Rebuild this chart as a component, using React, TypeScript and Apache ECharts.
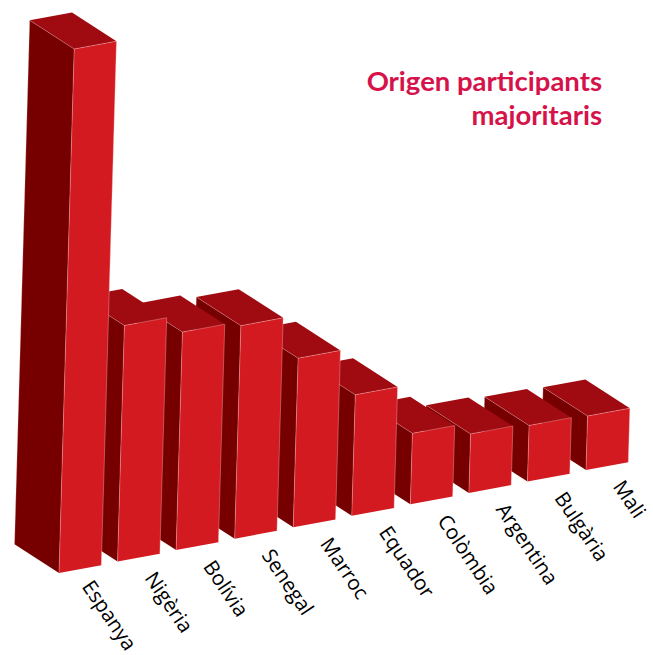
import React, { useEffect, useRef } from "react";
import * as echarts from "echarts";

const categories = ["Espanya", "Nigèria", "Bolívia", "Senegal", "Marroc", "Equador", "Colòmbia", "Argentina", "Bulgària", "Mali"];
const values = [524, 236, 218, 213, 169, 121, 71, 59, 56, 54];

const FRONT = "#D21A20";
const SIDE = "#760000";
const TOP = "#A00B11";
const EDGE = "rgba(255,205,205,0.5)";
const TITLE = "#D5124A";

const WIDTH: [number, number] = [42.3, -7.8];
const DEPTH: [number, number] = [-44.5, -28.7];
const LEAN = 0.029;
const BASE_SLOPE = -0.1954;

function renderBar(params: any, api: any) {
  const i = api.value(0);
  const v = api.value(1);
  const x0 = api.coord([0, 0])[0];
  const p0 = api.coord([i, 0]);
  const p1 = api.coord([i, v]);
  const shift = (p0[0] - x0) * BASE_SLOPE;
  const h = p0[1] - p1[1];
  const fbl = [p0[0], p0[1] + shift];
  const ftl = [p0[0] + h * LEAN, p1[1] + shift];
  const add = (p: number[], d: number[]) => [p[0] + d[0], p[1] + d[1]];
  const fbr = add(fbl, WIDTH);
  const ftr = add(ftl, WIDTH);
  const sbl = add(fbl, DEPTH);
  const stl = add(ftl, DEPTH);
  const back = add(ftr, DEPTH);
  const name = categories[i];
  const first = i === 0;
  return {
    type: "group",
    children: [
      { type: "polygon", shape: { points: [sbl, fbl, ftl, stl] }, style: { fill: SIDE } },
      { type: "polygon", shape: { points: [stl, ftl, ftr, back] }, style: { fill: TOP } },
      { type: "polygon", shape: { points: [fbl, fbr, ftr, ftl] }, style: { fill: FRONT } },
      { type: "polyline", shape: { points: [fbl, ftl, ftr, fbr] }, style: { fill: "none", stroke: EDGE, lineWidth: 0.7 } },
      { type: "polyline", shape: { points: [ftl, stl, sbl] }, style: { fill: "none", stroke: EDGE, lineWidth: 0.5 } },
      {
        type: "text",
        x: fbl[0] + (first ? 29 : 33),
        y: fbl[1] + (first ? 9 : 12),
        rotation: (-56 * Math.PI) / 180,
        style: {
          text: name,
          fill: "#000000",
          font: '20.5px "Open Sans"',
          textAlign: "left",
          textVerticalAlign: "middle",
        },
      },
    ],
  };
}

export default function App() {
  const ref = useRef<HTMLDivElement>(null);
  useEffect(() => {
    const chart = echarts.init(ref.current!, undefined, { renderer: "svg" });
    chart.setOption({
      animation: false,
      backgroundColor: "#ffffff",
      title: {
        text: "Origen participants\nmajoritaris",
        left: 597,
        top: 58,
        textAlign: "right",
        textStyle: {
          color: TITLE,
          fontFamily: "Lato",
          fontWeight: "bold",
          fontSize: 27.5,
          lineHeight: 34,
          align: "right",
        },
      },
      grid: { left: 59, top: 0, width: 527, height: 573 },
      xAxis: { type: "value", min: 0, max: 9, show: false },
      yAxis: { type: "value", min: 0, max: 573, show: false },
      series: [
        {
          type: "custom",
          clip: false,
          coordinateSystem: "cartesian2d",
          renderItem: renderBar,
          data: categories.map((_, i) => [i, values[i]]).reverse(),
        },
      ],
    });
    return () => chart.dispose();
  }, []);
  return <div ref={ref} style={{ position: "absolute", left: 0, top: 0, width: 653, height: 655 }} />;
}
